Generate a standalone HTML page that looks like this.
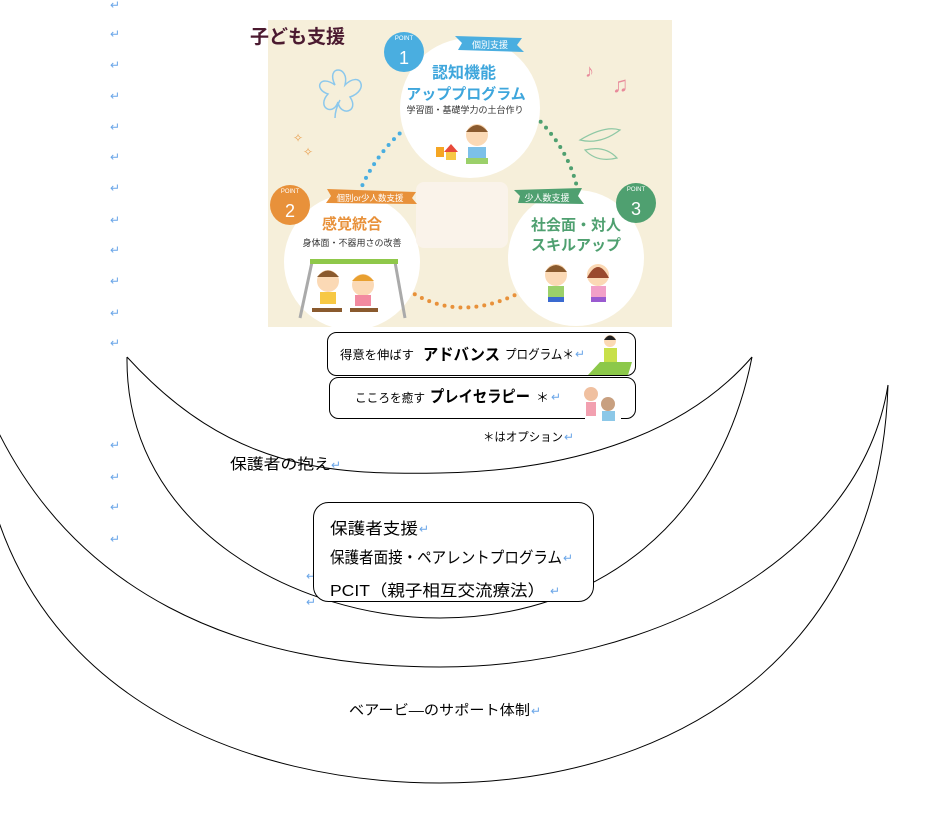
<!DOCTYPE html>
<html><head><meta charset="utf-8"><style>
html,body{margin:0;padding:0;background:#fff;}
svg{display:block;font-family:"Liberation Sans","Noto Sans CJK JP",sans-serif;}
.rm{fill:#6aa6e8;font-size:12px;}
</style></head><body>
<svg width="928" height="836" viewBox="0 0 928 836" xmlns="http://www.w3.org/2000/svg">
<g class="rm">
<text x="110" y="9">↵</text><text x="110" y="38">↵</text><text x="110" y="69">↵</text><text x="110" y="100">↵</text>
<text x="110" y="131">↵</text><text x="110" y="161">↵</text><text x="110" y="192">↵</text><text x="110" y="224">↵</text>
<text x="110" y="254">↵</text><text x="110" y="285">↵</text><text x="110" y="317">↵</text><text x="110" y="347">↵</text>
<text x="110" y="449">↵</text><text x="110" y="481">↵</text><text x="110" y="511">↵</text><text x="110" y="543">↵</text>
<text x="306" y="580">↵</text><text x="306" y="606">↵</text>
</g>
<rect x="268" y="20" width="404" height="307" fill="#f6efda"/>
<g fill="none" stroke-width="4" stroke-linecap="round" stroke-dasharray="0 8">
<path d="M418,118 Q375,150 357,198" stroke="#4aaee0"/>
<path d="M535,116 Q570,150 578,192" stroke="#4fa070"/>
<path d="M408,290 Q460,325 525,290" stroke="#e8913a"/>
</g>
<circle cx="470" cy="108" r="70" fill="#fff"/>
<circle cx="352" cy="262" r="68" fill="#fff"/>
<circle cx="576" cy="258" r="68" fill="#fff"/>
<rect x="416" y="182" width="92" height="66" rx="8" fill="#faf3ea"/>
<path d="M335,85 c-10,-20 15,-20 10,0 c15,-15 25,5 5,12 c10,15 -10,20 -12,5 c-5,15 -22,5 -10,-8 c-15,-5 -8,-20 7,-9z M340,100 q-5,10 -5,18" fill="none" stroke="#8cc8ec" stroke-width="1.5"/>
<text x="293" y="142" fill="#e9a050" font-size="12">✧</text><text x="303" y="156" fill="#e9a050" font-size="12">✧</text>
<text x="585" y="77" fill="#e88a9a" font-size="18">♪</text><text x="612" y="92" fill="#e88a9a" font-size="22">♫</text>
<path d="M580,140 q25,-15 40,-10 q-20,15 -40,10z M585,150 q20,-5 32,8 q-20,5 -32,-8z" fill="none" stroke="#8fc8a5" stroke-width="1.2"/>
<circle cx="404" cy="52" r="20" fill="#4aaee0"/><text x="404" y="40" font-size="6" fill="#fff" text-anchor="middle">POINT</text><text x="404" y="64" font-size="18" fill="#fff" text-anchor="middle">1</text>
<circle cx="290" cy="205" r="20" fill="#e8913a"/><text x="290" y="193" font-size="6" fill="#fff" text-anchor="middle">POINT</text><text x="290" y="217" font-size="18" fill="#fff" text-anchor="middle">2</text>
<circle cx="636" cy="203" r="20" fill="#4fa070"/><text x="636" y="191" font-size="6" fill="#fff" text-anchor="middle">POINT</text><text x="636" y="215" font-size="18" fill="#fff" text-anchor="middle">3</text>
<path d="M455,36 L522,38 L517,45 L524,52 L458,50 L462,43z" fill="#4aaee0"/><text x="490" y="48" font-size="9" fill="#fff" text-anchor="middle">個別支援</text>
<path d="M327,189 L416,192 L412,198 L417,204 L326,203 L331,196z" fill="#e8913a"/><text x="370" y="201" font-size="8.5" fill="#fff" text-anchor="middle">個別or少人数支援</text>
<path d="M514,190 L582,188 L578,196 L584,204 L518,203 L520,196z" fill="#4fa070"/><text x="547" y="201" font-size="9" fill="#fff" text-anchor="middle">少人数支援</text>
<text x="250" y="43" font-size="19" font-weight="bold" fill="#4b1a30">子ども支援</text>
<text x="464" y="78" font-size="16" font-weight="bold" fill="#3ea6dc" text-anchor="middle">認知機能</text>
<text x="466" y="99" font-size="15" font-weight="bold" fill="#3ea6dc" text-anchor="middle">アッププログラム</text>
<text x="465" y="113" font-size="9" fill="#333" text-anchor="middle">学習面・基礎学力の土台作り</text>
<text x="352" y="229" font-size="15" font-weight="bold" fill="#e8913a" text-anchor="middle">感覚統合</text>
<text x="352" y="246" font-size="9" fill="#333" text-anchor="middle">身体面・不器用さの改善</text>
<text x="576" y="230" font-size="15" font-weight="bold" fill="#4fa070" text-anchor="middle">社会面・対人</text>
<text x="576" y="250" font-size="15" font-weight="bold" fill="#4fa070" text-anchor="middle">スキルアップ</text>
<g>
<circle cx="477" cy="135" r="11" fill="#fbd9b5"/><path d="M466,132 q11,-14 22,0z" fill="#8a5a2e"/>
<rect x="468" y="147" width="18" height="12" fill="#7cc0e8"/><rect x="466" y="158" width="22" height="6" fill="#9bd06a"/>
<rect x="436" y="147" width="8" height="10" fill="#f5a623"/><path d="M444,152 l7,-8 l7,8z" fill="#e84a3a"/><rect x="446" y="152" width="10" height="8" fill="#f7c844"/>
<path d="M300,318 L312,262 L395,262 L405,318" fill="none" stroke="#aaa" stroke-width="3"/><rect x="310" y="259" width="88" height="5" fill="#8fc84a"/>
<circle cx="328" cy="281" r="11" fill="#fbd9b5"/><path d="M317,277 q11,-13 22,0z" fill="#8a5a2e"/><rect x="320" y="292" width="16" height="12" fill="#f7c844"/><rect x="312" y="308" width="30" height="4" fill="#8a5a2e"/>
<circle cx="363" cy="285" r="11" fill="#fbd9b5"/><path d="M352,281 q11,-13 22,0z" fill="#e8a030"/><rect x="355" y="295" width="16" height="11" fill="#f28aa0"/><rect x="350" y="308" width="28" height="4" fill="#8a5a2e"/>
<circle cx="556" cy="275" r="11" fill="#fbd9b5"/><path d="M545,272 q11,-14 22,0z" fill="#8a5a2e"/><rect x="548" y="286" width="16" height="11" fill="#9bd06a"/><rect x="548" y="297" width="16" height="5" fill="#3a6ad0"/>
<circle cx="598" cy="275" r="11" fill="#fbd9b5"/><path d="M587,278 q11,-22 22,0z" fill="#9a4a2e"/><rect x="591" y="286" width="15" height="11" fill="#f2a0c8"/><rect x="591" y="297" width="15" height="5" fill="#9a5ad0"/>
</g>
<g fill="none" stroke="#000" stroke-width="1">
<path d="M127,357 C230,470 330,475 440,473 C560,471 680,440 752,357"/>
<path d="M127,357 C125,530 300,618 440,618 C600,618 720,520 752,357"/>
<path d="M-20,390 C60,600 250,667 440,667 C650,667 860,560 888,385"/>
<path d="M-15,470 C30,700 250,783 440,783 C680,783 880,650 888,385"/>
</g>
<rect x="327.5" y="332.5" width="308" height="43" rx="9" fill="#fff" stroke="#000"/>
<text x="340" y="359" font-size="12" fill="#000" textLength="74" lengthAdjust="spacingAndGlyphs">得意を伸ばす</text>
<text x="423" y="360" font-size="16" font-weight="bold" fill="#000" textLength="77" lengthAdjust="spacingAndGlyphs">アドバンス</text>
<text x="505" y="359" font-size="13" fill="#000" textLength="69" lengthAdjust="spacingAndGlyphs">プログラム＊</text><text class="rm" x="575" y="358">↵</text>
<g><path d="M588,375 L600,362 L632,362 L628,375z" fill="#8cc84a"/><circle cx="610" cy="341" r="6" fill="#fbd9b5"/><path d="M604,340 q6,-9 12,0z" fill="#222"/><rect x="604" y="348" width="13" height="14" fill="#c8e04a"/></g>
<rect x="329.5" y="377.5" width="306" height="41" rx="9" fill="#fff" stroke="#000"/>
<text x="355" y="402" font-size="12" fill="#000" textLength="70" lengthAdjust="spacingAndGlyphs">こころを癒す</text>
<text x="430" y="402" font-size="16" font-weight="bold" fill="#000" textLength="100" lengthAdjust="spacingAndGlyphs">プレイセラピー</text>
<text x="536" y="402" font-size="13" fill="#000">＊</text><text class="rm" x="551" y="401">↵</text>
<g><rect x="585" y="382" width="36" height="40" fill="#fff"/><circle cx="591" cy="394" r="7" fill="#f0c0a0"/><circle cx="608" cy="404" r="7" fill="#c8a080"/><rect x="586" y="402" width="10" height="14" fill="#f2a0b0"/><rect x="602" y="411" width="13" height="10" fill="#8cc8e8"/></g>
<text x="483" y="441" font-size="12" fill="#000" textLength="80" lengthAdjust="spacingAndGlyphs">＊はオプション</text><text class="rm" x="564" y="441">↵</text>
<text x="230" y="469" font-size="15" fill="#000" textLength="101" lengthAdjust="spacingAndGlyphs">保護者の抱え</text><text class="rm" x="331" y="469">↵</text>
<rect x="313.5" y="502.5" width="280" height="99" rx="15" fill="#fff" stroke="#000"/>
<text x="330" y="534" font-size="16" fill="#000" textLength="88" lengthAdjust="spacingAndGlyphs">保護者支援</text><text class="rm" x="419" y="533">↵</text>
<text x="330" y="563" font-size="16" fill="#000" textLength="232" lengthAdjust="spacingAndGlyphs">保護者面接・ペアレントプログラム</text><text class="rm" x="563" y="562">↵</text>
<text x="330" y="596" font-size="16" fill="#000" textLength="215" lengthAdjust="spacingAndGlyphs">PCIT（親子相互交流療法）</text><text class="rm" x="550" y="595">↵</text>
<text x="349" y="715" font-size="14" fill="#000" textLength="181" lengthAdjust="spacingAndGlyphs">ベアービ―のサポート体制</text><text class="rm" x="531" y="715">↵</text>
</svg>
</body></html>
